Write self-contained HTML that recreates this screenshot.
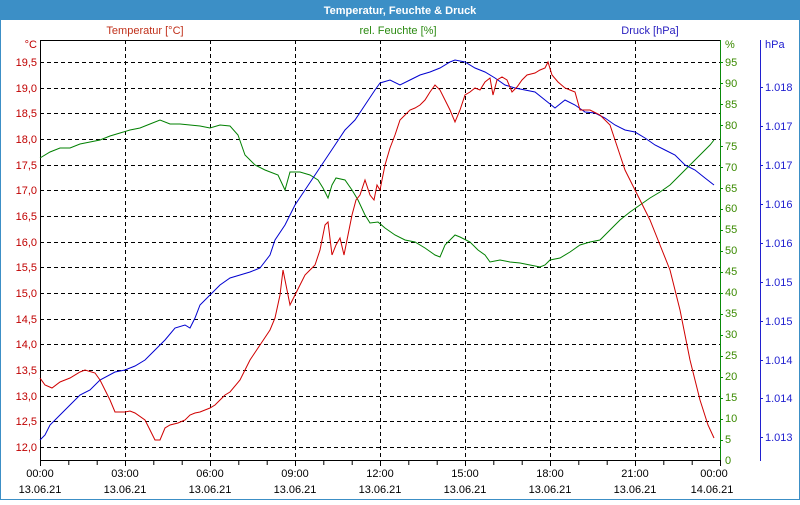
<!DOCTYPE html>
<html><head><meta charset="utf-8"><style>
body{margin:0;width:800px;height:500px;overflow:hidden;background:#fff;font-family:"Liberation Sans",sans-serif}
</style></head><body>
<svg width="800" height="500" xmlns="http://www.w3.org/2000/svg" font-family="Liberation Sans, sans-serif" font-size="11">
<rect x="0" y="0" width="800" height="500" fill="#fff"/>
<rect x="0.5" y="0.5" width="799" height="499" fill="none" stroke="#3c8fc6"/>
<rect x="0" y="0" width="800" height="20" fill="#3c8fc6"/>
<text x="400" y="14" fill="#fff" font-weight="bold" text-anchor="middle">Temperatur, Feuchte &amp; Druck</text>
<text x="145" y="34" fill="#c0301a" text-anchor="middle">Temperatur [°C]</text>
<text x="398" y="34" fill="#2a8a10" text-anchor="middle">rel. Feuchte [%]</text>
<text x="650" y="34" fill="#2a20c0" text-anchor="middle">Druck [hPa]</text>
<g stroke="#000" stroke-dasharray="4,3" stroke-width="1">
<line x1="40" x2="720" y1="62.5" y2="62.5"/><line x1="40" x2="720" y1="88.5" y2="88.5"/><line x1="40" x2="720" y1="113.5" y2="113.5"/><line x1="40" x2="720" y1="139.5" y2="139.5"/><line x1="40" x2="720" y1="165.5" y2="165.5"/><line x1="40" x2="720" y1="190.5" y2="190.5"/><line x1="40" x2="720" y1="216.5" y2="216.5"/><line x1="40" x2="720" y1="242.5" y2="242.5"/><line x1="40" x2="720" y1="267.5" y2="267.5"/><line x1="40" x2="720" y1="293.5" y2="293.5"/><line x1="40" x2="720" y1="319.5" y2="319.5"/><line x1="40" x2="720" y1="344.5" y2="344.5"/><line x1="40" x2="720" y1="370.5" y2="370.5"/><line x1="40" x2="720" y1="396.5" y2="396.5"/><line x1="40" x2="720" y1="421.5" y2="421.5"/><line x1="40" x2="720" y1="447.5" y2="447.5"/>
<line x1="125.5" x2="125.5" y1="40" y2="460"/><line x1="210.5" x2="210.5" y1="40" y2="460"/><line x1="295.5" x2="295.5" y1="40" y2="460"/><line x1="380.5" x2="380.5" y1="40" y2="460"/><line x1="465.5" x2="465.5" y1="40" y2="460"/><line x1="550.5" x2="550.5" y1="40" y2="460"/><line x1="635.5" x2="635.5" y1="40" y2="460"/>
</g>
<line x1="40.5" y1="40" x2="40.5" y2="461" stroke="#000"/>
<line x1="40" y1="40.5" x2="720" y2="40.5" stroke="#000"/>
<line x1="40" y1="460.5" x2="720" y2="460.5" stroke="#000"/>
<line x1="720.5" y1="40" x2="720.5" y2="461" stroke="#0a8a0a"/>
<line x1="760.5" y1="40" x2="760.5" y2="461" stroke="#2020d0"/>
<g stroke="#000">
<path d="M40.5 460v6M68.8 460v5M97.2 460v5M125.5 460v6M153.8 460v5M182.2 460v5M210.5 460v6M238.8 460v5M267.2 460v5M295.5 460v6M323.8 460v5M352.2 460v5M380.5 460v6M408.8 460v5M437.2 460v5M465.5 460v6M493.8 460v5M522.2 460v5M550.5 460v6M578.8 460v5M607.2 460v5M635.5 460v6M663.8 460v5M692.2 460v5M720.5 460v6"/>
</g>
<g fill="#c00000" text-anchor="end">
<text x="37" y="48">°C</text>
<text x="37" y="66">19,5</text><text x="37" y="92">19,0</text><text x="37" y="117">18,5</text><text x="37" y="143">18,0</text><text x="37" y="169">17,5</text><text x="37" y="194">17,0</text><text x="37" y="220">16,5</text><text x="37" y="246">16,0</text><text x="37" y="271">15,5</text><text x="37" y="297">15,0</text><text x="37" y="323">14,5</text><text x="37" y="348">14,0</text><text x="37" y="374">13,5</text><text x="37" y="400">13,0</text><text x="37" y="425">12,5</text><text x="37" y="451">12,0</text>
</g>
<g fill="#3a8a00">
<text x="725" y="48">%</text>
<text x="725" y="66">95</text><text x="725" y="87">90</text><text x="725" y="108">85</text><text x="725" y="129">80</text><text x="725" y="150">75</text><text x="725" y="171">70</text><text x="725" y="192">65</text><text x="725" y="212">60</text><text x="725" y="233">55</text><text x="725" y="254">50</text><text x="725" y="275">45</text><text x="725" y="296">40</text><text x="725" y="317">35</text><text x="725" y="338">30</text><text x="725" y="359">25</text><text x="725" y="380">20</text><text x="725" y="401">15</text><text x="725" y="422">10</text><text x="725" y="443">5</text><text x="725" y="464">0</text>
</g>
<g stroke="#0a8a0a"><path d="M720 62.5h3M720 83.5h3M720 104.5h3M720 125.5h3M720 146.5h3M720 167.5h3M720 188.5h3M720 209.5h3M720 230.5h3M720 251.5h3M720 272.5h3M720 293.5h3M720 314.5h3M720 335.5h3M720 356.5h3M720 377.5h3M720 398.5h3M720 419.5h3M720 440.5h3"/></g>
<g stroke="#2020d0"><path d="M760 87.5h3M760 126.5h3M760 165.5h3M760 204.5h3M760 243.5h3M760 282.5h3M760 321.5h3M760 360.5h3M760 398.5h3M760 437.5h3"/></g>
<g fill="#2020d0">
<text x="765" y="48">hPa</text>
<text x="765" y="91">1.018</text><text x="765" y="130">1.017</text><text x="765" y="169">1.017</text><text x="765" y="208">1.016</text><text x="765" y="247">1.016</text><text x="765" y="286">1.015</text><text x="765" y="325">1.015</text><text x="765" y="364">1.014</text><text x="765" y="402">1.014</text><text x="765" y="441">1.013</text>
</g>
<g fill="#000" text-anchor="middle">
<text x="40" y="477">00:00</text><text x="125" y="477">03:00</text><text x="210" y="477">06:00</text><text x="295" y="477">09:00</text><text x="380" y="477">12:00</text><text x="465" y="477">15:00</text><text x="550" y="477">18:00</text><text x="635" y="477">21:00</text><text x="714" y="477">00:00</text>
<text x="40" y="493">13.06.21</text><text x="125" y="493">13.06.21</text><text x="210" y="493">13.06.21</text><text x="295" y="493">13.06.21</text><text x="380" y="493">13.06.21</text><text x="465" y="493">13.06.21</text><text x="550" y="493">13.06.21</text><text x="635" y="493">13.06.21</text><text x="712" y="493">14.06.21</text>
</g>
<polyline fill="none" stroke="#008000" points="40,158 50,152 60,148 70,148 80,144 90,142 100,140 110,136 120,133 130,130 140,128 150,124 160,120 170,124 180,124 190,125 200,126 210,128 220,125 230,126 238,135 245,155 255,165 265,170 278,175 285,190 290,172 300,172 310,175 318,180 323,188 328,198 332,185 336,178 345,180 352,190 358,200 365,215 370,223 378,222 385,228 395,235 405,240 415,242 425,248 435,255 440,257 445,245 455,235 460,237 470,242 478,250 485,255 490,262 500,260 510,262 520,263 530,265 540,267 545,265 550,260 560,258 570,252 580,245 590,242 600,240 610,230 620,220 630,212 640,205 650,198 660,192 670,185 680,175 690,165 700,155 710,145 714,140"/>
<polyline fill="none" stroke="#0000d0" points="40,440 45,435 50,425 60,415 70,405 80,395 90,390 100,380 115,372 125,370 135,366 145,360 155,350 165,340 175,328 185,325 190,328 195,318 200,305 210,295 220,285 230,278 240,275 250,272 260,268 270,255 275,240 285,225 295,205 305,190 315,175 325,160 335,145 345,130 355,120 365,105 375,90 380,83 390,80 400,85 410,80 420,75 430,72 440,68 450,62 455,60 465,62 475,68 485,72 495,78 505,85 515,88 525,90 535,92 545,100 555,108 565,100 575,105 585,112 595,113 605,118 615,125 625,130 635,132 645,138 655,145 665,150 675,155 685,165 695,170 705,178 714,185"/>
<polyline fill="none" stroke="#d00000" points="40,378 45,385 52,388 60,382 70,378 80,372 85,370 95,373 100,380 110,400 115,412 125,412 130,411 135,413 145,420 150,430 155,440 160,440 165,428 170,425 178,423 185,420 190,415 195,413 200,412 205,410 210,408 215,405 220,400 225,395 230,392 240,380 250,360 260,345 270,330 275,318 280,295 283,270 287,290 290,305 295,295 300,285 305,275 310,270 315,265 320,250 325,225 328,222 332,255 336,245 340,238 344,255 348,235 352,215 356,200 360,195 365,180 370,195 374,200 377,185 380,190 385,165 390,148 395,135 400,120 405,115 410,110 415,108 420,105 425,100 430,92 435,85 440,90 445,100 450,110 455,122 460,110 465,95 470,92 475,88 480,90 485,82 490,78 493,95 497,80 502,77 507,80 512,92 517,87 522,80 527,75 535,73 540,70 545,68 548,62 552,75 558,82 565,88 570,90 575,92 580,110 590,110 600,115 610,125 615,140 620,155 625,170 630,180 640,200 650,220 660,245 670,270 680,310 690,360 700,400 708,425 714,438"/>
</svg>
</body></html>
